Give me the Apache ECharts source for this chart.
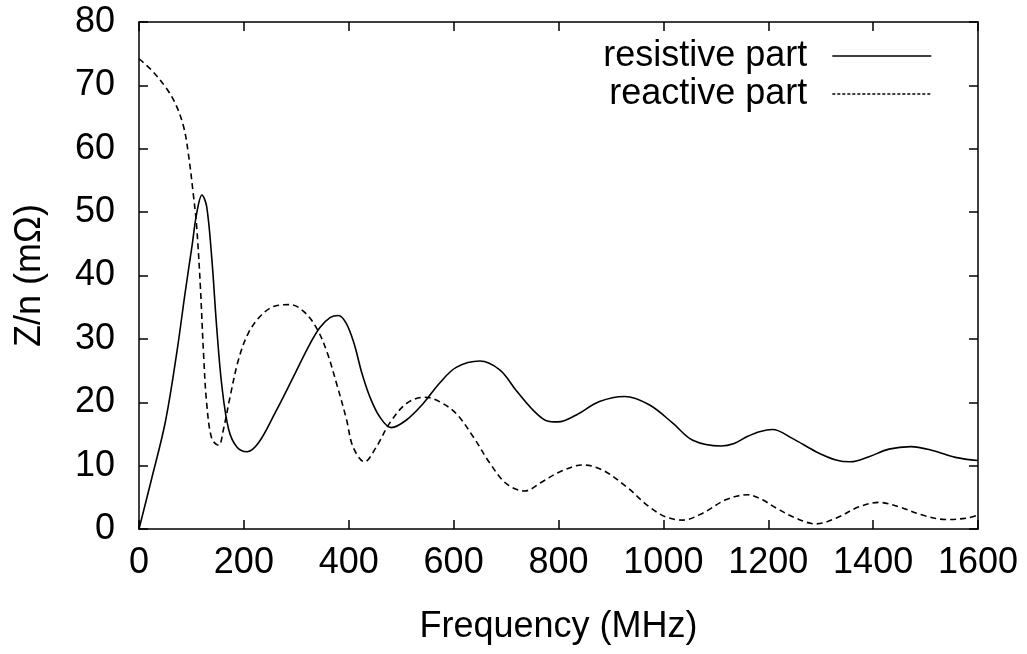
<!DOCTYPE html>
<html>
<head>
<meta charset="utf-8">
<script src="https://cdn.jsdelivr.net/npm/echarts@6/dist/echarts.min.js"></script>
<style>html,body{margin:0;padding:0;background:#fff;}#c{width:1027px;height:654px;}</style>
</head>
<body>
<div id="c"></div>
<script>
// Frequency (MHz) and impedance values (mΩ)
const freqResistive = [0, 24, 50, 72, 88, 101, 110, 120, 129, 139, 148, 158, 171, 187, 206, 228, 260, 292, 324, 345, 365, 380, 395, 410, 425, 440, 459, 481, 510, 542, 573, 605, 650, 688, 719, 751, 777, 799, 834, 878, 926, 973, 1018, 1056, 1110, 1135, 1160, 1185, 1208, 1246, 1291, 1329, 1357, 1392, 1430, 1472, 1513, 1557, 1600];
const resistive = [0, 7.9, 16.8, 27.8, 37.3, 44.6, 49.8, 52.7, 50.9, 42.5, 32, 22.6, 15.7, 12.9, 12.2, 13.6, 18.4, 23.6, 28.9, 31.8, 33.4, 33.7, 32.5, 29.3, 24.6, 20.9, 17.7, 16.0, 17.2, 19.8, 23.0, 25.5, 26.5, 25.1, 21.9, 18.8, 17.1, 16.9, 18, 20.1, 20.9, 19.6, 16.7, 14, 13.1, 13.5, 14.6, 15.4, 15.7, 14.3, 12.2, 10.9, 10.6, 11.4, 12.6, 13, 12.4, 11.3, 10.8];

const freqReactive = [0, 24, 50, 69, 85, 94, 104, 110, 117, 123, 129, 139, 152, 161, 174, 190, 209, 234, 260, 289, 317, 340, 359, 378, 396, 408, 430, 453, 478, 510, 545, 573, 605, 637, 669, 700, 735, 770, 802, 846, 884, 929, 973, 1005, 1037, 1075, 1119, 1161, 1189, 1215, 1253, 1291, 1329, 1373, 1411, 1449, 1494, 1538, 1577, 1600];
const reactive = [74.2, 72.4, 69.8, 67.2, 63.5, 59.3, 52.5, 47.7, 38.3, 27.8, 19.9, 14.2, 13.2, 15.7, 21, 26.8, 31, 33.8, 35.2, 35.4, 34.1, 31.5, 27.8, 22.6, 17.2, 13, 10.6, 13, 16.7, 19.8, 20.8, 20.1, 18.2, 14.6, 10.4, 7.2, 6.0, 7.5, 9, 10.1, 9.3, 6.7, 3.5, 1.9, 1.4, 2.5, 4.6, 5.4, 4.6, 3.3, 1.7, 0.8, 1.7, 3.5, 4.2, 3.5, 2.2, 1.5, 1.7, 2.2];

const seriesNames = ['resistive part', 'reactive part'];
const xTicks = [0, 200, 400, 600, 800, 1000, 1200, 1400, 1600];
const yTicks = [0, 10, 20, 30, 40, 50, 60, 70, 80];

const FONT = 'Liberation Sans, Arial, sans-serif';
const FS = 36;

const chart = echarts.init(document.getElementById('c'), null, {renderer: 'canvas'});
const pair = (xs, ys) => xs.map((x, i) => [x, ys[i]]);
const plain = v => String(v);

const axisCommon = {
  axisLine: {show: true, onZero: false, lineStyle: {color: '#000', width: 1.5}},
  axisTick: {show: true, inside: true, length: 9, lineStyle: {color: '#000', width: 1.5}},
  splitLine: {show: false}
};

chart.setOption({
  animation: false,
  backgroundColor: '#fff',
  textStyle: {fontFamily: FONT},
  grid: {left: 139, right: 49, top: 22, bottom: 125, containLabel: false},
  legend: {
    orient: 'vertical',
    right: 95,
    top: 38,
    padding: 0,
    align: 'right',
    itemWidth: 99,
    itemHeight: 14,
    itemGap: 2,
    itemStyle: {opacity: 0},
    data: [
      {name: seriesNames[0], lineStyle: {color: '#000', width: 1.4, type: 'solid'}},
      {name: seriesNames[1], lineStyle: {color: '#000', width: 1.4, type: [3, 2]}}
    ],
    textStyle: {fontFamily: FONT, fontSize: FS, color: '#000', padding: [0, 20, 0, 0]}
  },
  xAxis: [
    Object.assign({}, axisCommon, {
      type: 'value', min: xTicks[0], max: xTicks[xTicks.length - 1], interval: 200,
      name: 'Frequency (MHz)', nameLocation: 'middle', nameGap: 80,
      nameTextStyle: {fontFamily: FONT, fontSize: FS, color: '#000'},
      axisLabel: {fontFamily: FONT, fontSize: FS, color: '#000', margin: 16, formatter: plain}
    }),
    Object.assign({}, axisCommon, {
      type: 'value', position: 'top', min: xTicks[0], max: xTicks[xTicks.length - 1], interval: 200,
      axisLabel: {show: false}
    })
  ],
  yAxis: [
    Object.assign({}, axisCommon, {
      type: 'value', min: yTicks[0], max: yTicks[yTicks.length - 1], interval: 10,
      name: 'Z/n (mΩ)', nameLocation: 'middle', nameGap: 91,
      nameTextStyle: {fontFamily: FONT, fontSize: FS, color: '#000'},
      axisLabel: {fontFamily: FONT, fontSize: FS, color: '#000', margin: 24, formatter: plain}
    }),
    Object.assign({}, axisCommon, {
      type: 'value', position: 'right', min: yTicks[0], max: yTicks[yTicks.length - 1], interval: 10,
      axisLabel: {show: false}
    })
  ],
  series: [
    {
      name: seriesNames[0], type: 'line', xAxisIndex: 0, yAxisIndex: 0,
      data: pair(freqResistive, resistive), smooth: 0.35, symbol: 'none',
      lineStyle: {color: '#000', width: 1.6, type: 'solid'}, itemStyle: {color: '#000'}
    },
    {
      name: seriesNames[1], type: 'line', xAxisIndex: 0, yAxisIndex: 0,
      data: pair(freqReactive, reactive), smooth: 0.35, symbol: 'none',
      lineStyle: {color: '#000', width: 1.6, type: [6, 4]}, itemStyle: {color: '#000'}
    }
  ]
});
</script>
</body>
</html>
